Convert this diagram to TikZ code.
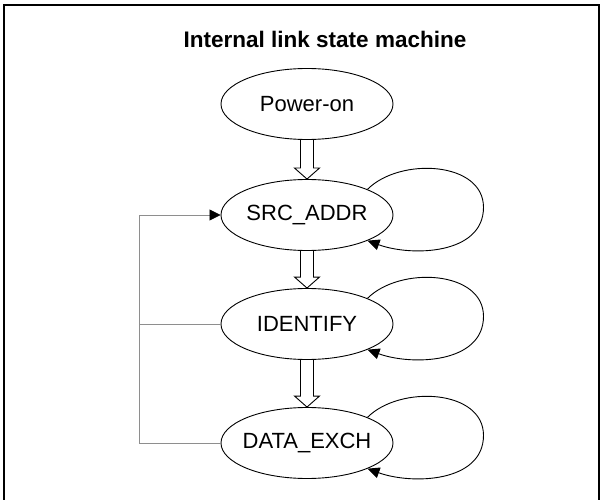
\documentclass[tikz,border=0pt]{standalone}
\usepackage{fontspec}
\setmainfont{Liberation Sans}
\usetikzlibrary{shapes.geometric,arrows.meta,calc}
\definecolor{wire}{HTML}{8E8E8E}
\tikzset{
  state/.style={draw,ellipse,line width=0.9pt,minimum width=172pt,minimum height=71pt,
    inner xsep=-20pt,inner ysep=0pt,font=\fontsize{22pt}{26pt}\selectfont},
  blockarrow/.style={draw,line width=0.9pt,to path={let \p1=(\tikztostart),\p2=(\tikztotarget) in
    (\x1-6.5pt,\y1) -- (\x1-6.5pt,\y2+11pt) -- (\x1-12.5pt,\y2+11pt) -- (\x1,\y2)
    -- (\x1+12.5pt,\y2+11pt) -- (\x1+6.5pt,\y2+11pt) -- (\x1+6.5pt,\y1)}},
  selfarc/.style={draw,line width=0.9pt,-{Triangle[length=12pt,width=11pt]}},
  fbline/.style={draw=wire,line width=0.8pt}
}
\begin{document}
\begin{tikzpicture}[x=1pt,y=1pt]
\useasboundingbox (0,0) rectangle (603,499);
\draw[line width=1.8pt] (4,-2) -- (4,494) -- (599,494) -- (599,-2);
\node[anchor=base,font=\bfseries\fontsize{22.5pt}{27pt}\selectfont] (title) at (325,451) {Internal link state machine};
\node[state] (pwr) at (307,395) {Power-on};
\node[state] (src) at (307,284) {SRC\_ADDR};
\node[state] (ident) at (307,175) {IDENTIFY};
\node[state] (data) at (307,56) {DATA\_EXCH};
\draw[blockarrow] (pwr.south) to (src.north);
\draw[blockarrow] (src.south) to (ident.north);
\draw[blockarrow] (ident.south) to (data.north);
\foreach \s in {src,ident,data}
  \draw[selfarc] (\s.23) to[out=45,in=90] ++(116,-18) to[out=-90,in=-20] (\s.-23);
\coordinate (fbx) at (139,0);
\draw[fbline,-{Triangle[length=11pt,width=11pt,color=black]}] (data.west) -- (data.west -| fbx) |- (src.west);
\draw[fbline] (ident.west) -- (ident.west -| fbx);
\end{tikzpicture}
\end{document}
